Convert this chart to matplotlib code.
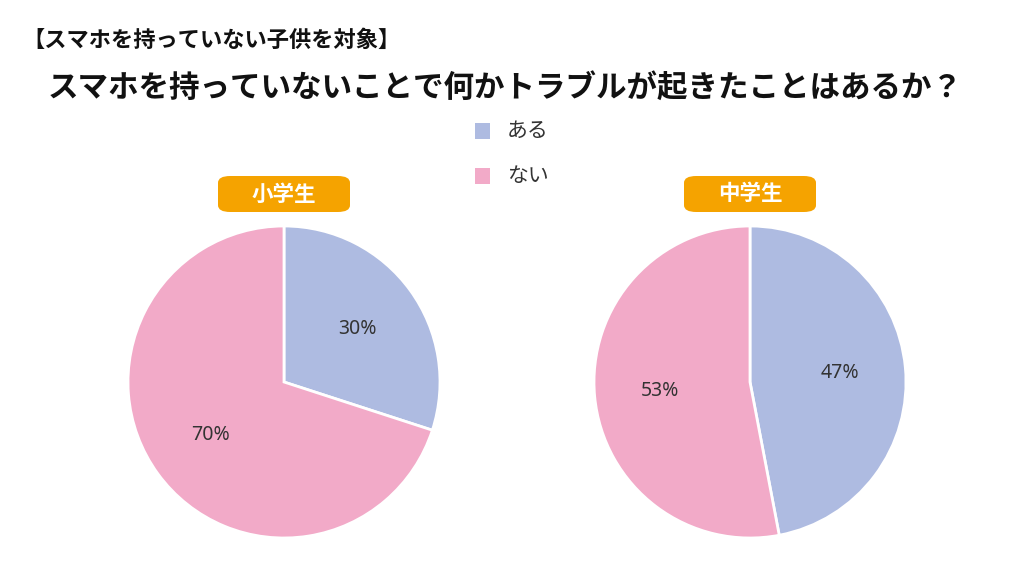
import matplotlib
matplotlib.use("Agg")
import matplotlib.pyplot as plt
from matplotlib.patches import FancyBboxPatch, Rectangle

plt.rcParams['font.family'] = ['Noto Sans CJK JP', 'DejaVu Sans']

categories = ["ある", "ない"]
groups = ["小学生", "中学生"]
values_elem = [30, 70]
values_middle = [47, 53]
colors = ["#AEBBE1", "#F2AAC8"]
badge_color = "#F5A300"

W, H = 1024, 561
fig = plt.figure(figsize=(W / 100, H / 100), dpi=100)
fig.patch.set_facecolor("white")

def fx(x): return x / W
def fy(y): return 1 - y / H

fig.text(fx(22), fy(40), "【スマホを持っていない子供を対象】", fontsize=16, fontweight="bold",
         va="center", ha="left", color="#111111")
fig.text(fx(48), fy(88), "スマホを持っていないことで何かトラブルが起きたことはあるか？",
         fontsize=22, fontweight="bold", va="center", ha="left", color="#111111")

# legend
for i, (cat, col) in enumerate(zip(categories, colors)):
    y = 131 + i * 45
    fig.patches.append(Rectangle((fx(475), fy(y + 8)), 15 / W, 16 / H, transform=fig.transFigure,
                                 facecolor=col, edgecolor="none"))
    fig.text(fx(507), fy(y), cat, fontsize=15, va="center", ha="left", color="#333333")

R = 156
centers = [(284, 382), (750, 382)]
for (cx, cy), vals, grp in zip(centers, [values_elem, values_middle], groups):
    ax = fig.add_axes([fx(cx - R), fy(cy + R), 2 * R / W, 2 * R / H])
    ax.pie(vals, colors=colors, startangle=90, counterclock=False,
           autopct=lambda p: f"{p:.0f}%", pctdistance=0.58,
           wedgeprops=dict(edgecolor="white", linewidth=2),
           textprops=dict(fontsize=14, color="#333333", family=["Noto Sans", "DejaVu Sans"]))
    ax.set_aspect("equal")
    ax.set_xlim(-1, 1)
    ax.set_ylim(-1, 1)
    # badge
    bw, bh = 132, 36
    fig.patches.append(FancyBboxPatch((fx(cx - bw / 2), fy(194 + bh / 2)), bw / W, bh / H,
                                      boxstyle="round,pad=0,rounding_size=0.012",
                                      transform=fig.transFigure, facecolor=badge_color,
                                      edgecolor="none"))
    fig.text(fx(cx), fy(194), grp, fontsize=15.5, fontweight="bold", color="white",
             ha="center", va="center")

fig.savefig("out.png", dpi=100, facecolor="white")
